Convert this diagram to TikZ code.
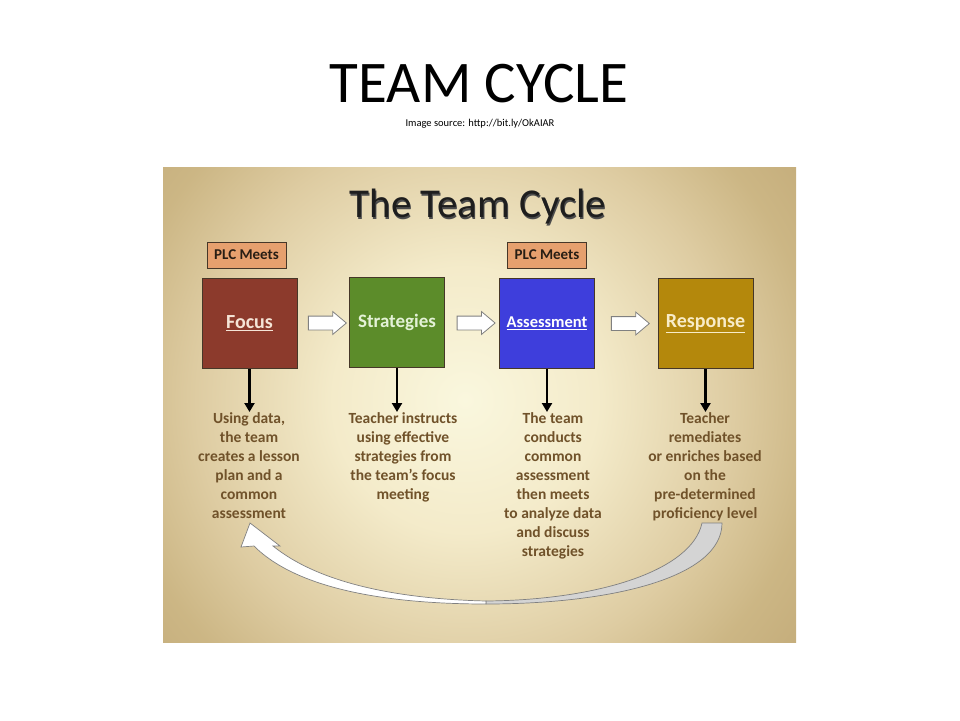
\documentclass[tikz,border=0pt]{standalone}
\usepackage{fontspec}
\setmainfont{Carlito}
\usetikzlibrary{arrows.meta,shapes.arrows,calc}
\definecolor{focusred}{RGB}{140,58,44}
\definecolor{stratgreen}{RGB}{92,140,42}
\definecolor{assessblue}{RGB}{62,62,220}
\definecolor{respgold}{RGB}{180,136,12}
\definecolor{plcorange}{RGB}{230,160,110}
\definecolor{bodybrown}{RGB}{112,82,42}
\definecolor{edgebrown}{RGB}{70,55,40}
\definecolor{paneledge}{RGB}{190,165,115}
\pgfdeclareradialshading{panelglow}{\pgfpoint{0bp}{0bp}}{%
  rgb(0bp)=(0.98,0.969,0.87);
  rgb(8bp)=(0.955,0.92,0.79);
  rgb(16bp)=(0.87,0.80,0.635);
  rgb(21bp)=(0.80,0.715,0.52);
  rgb(28bp)=(0.745,0.647,0.451);
  rgb(50bp)=(0.745,0.647,0.451)}
\tikzset{
  stage/.style={draw=edgebrown, line width=0.8pt, minimum width=95pt, minimum height=90pt, inner sep=0pt, font=\fontsize{20}{24}\selectfont\bfseries},
  plc/.style={draw=edgebrown, line width=0.8pt, fill=plcorange, minimum width=79pt, minimum height=26pt, inner sep=0pt, text={rgb,255:red,40;green,30;blue,20}, font=\fontsize{15}{18}\selectfont\bfseries},
  steptext/.style={anchor=north, align=center, inner sep=0pt, text=bodybrown, font=\fontsize{15.5}{19}\selectfont\bfseries},
  blockarrow/.style={single arrow, draw=gray, fill=white, line width=0.8pt, minimum height=38pt, minimum width=22pt, inner sep=6.5pt, single arrow head extend=4.5pt, single arrow tip angle=80},
  downarrow/.style={line width=2.6pt, -{Triangle[length=9pt,width=10pt]}}
}
\begin{document}
\begin{tikzpicture}[x=1pt,y=-1pt]
\useasboundingbox (0,0) rectangle (960,720);
\node[font=\fontsize{59}{62}\selectfont] (title) at (479,84) {TEAM CYCLE};
\node[font=\fontsize{10.5}{12}\selectfont] (source) at (480,124) {Image source: http://bit.ly/OkAIAR};
% panel
\begin{scope}
\clip (163,167) rectangle (796,642);
\fill[paneledge] (163,167) rectangle (796,642);
\shade[shading=panelglow] (465,400) circle (420);
\end{scope}
\node[font=\fontsize{41}{44}\selectfont, text=black!70] (cycleshadow) at (478.9,208.3) {The Team Cycle};
\node[font=\fontsize{41}{44}\selectfont, text={rgb,255:red,30;green,30;blue,30}] (cycletitle) at (478,207) {The Team Cycle};
\node[plc] (plcone) at (246.5,255) {PLC Meets};
\node[plc] (plctwo) at (547,255) {PLC Meets};
\node[stage, fill=focusred, text={rgb,255:red,245;green,228;blue,215}] (focus) at (249.5,323.5) {\underline{Focus}};
\node[stage, fill=stratgreen, text={rgb,255:red,228;green,242;blue,215}, font=\fontsize{19}{22}\selectfont\bfseries] (strat) at (397,322.5) {Strategies};
\node[stage, fill=assessblue, text=white, font=\fontsize{16.5}{20}\selectfont\bfseries] (assess) at (547,323.5) {\underline{Assessment}};
\node[stage, fill=respgold, text={rgb,255:red,248;green,236;blue,200}] (resp) at (705.5,323.5) {\underline{Response}};
\node[blockarrow] (arone) at ($(focus.east)!0.5!(strat.west)$) {};
\node[blockarrow] (artwo) at ($(strat.east)!0.5!(assess.west)$) {};
\node[blockarrow] (arthree) at ($(assess.east)!0.5!(resp.west)$) {};
\node[steptext] (focustxt) at (249,412) {Using data,\\the team\\creates a lesson\\plan and a\\common\\assessment};
\node[steptext] (strattxt) at (403,412) {Teacher instructs\\using effective\\strategies from\\the team’s focus\\meeting};
\node[steptext] (assesstxt) at (553,412) {The team\\conducts\\common\\assessment\\then meets\\to analyze data\\and discuss\\strategies};
\node[steptext] (resptxt) at (705,412) {Teacher\\remediates\\or enriches based\\on the\\pre-determined\\proficiency level};
\draw[downarrow] (focus.south) -- (focus.south |- focustxt.north);
\draw[downarrow] (strat.south) -- (strat.south |- strattxt.north);
\draw[downarrow] (assess.south) -- (assess.south |- assesstxt.north);
\draw[downarrow] (resp.south) -- (resp.south |- resptxt.north);
% return arrow
\coordinate (loopstart) at (712,523);
\coordinate (looptip) at (250,523);
\filldraw[fill={rgb,255:red,212;green,212;blue,212}, draw=gray, line width=0.7pt]
  (486,601) .. controls (600,600) and (692,570) .. ($(loopstart)+(-10,0)$) -- ($(loopstart)+(10,0)$)
  .. controls (722,578) and (610,604) .. (486,604) -- cycle;
\filldraw[fill=white, draw=gray, line width=0.7pt]
  (486,604) .. controls (390,604) and (298,590) .. (254,546) -- (241,547) -- (looptip) -- (280,546) -- (273,546)
  .. controls (320,584) and (400,599) .. (486,601) -- cycle;
\end{tikzpicture}
\end{document}
